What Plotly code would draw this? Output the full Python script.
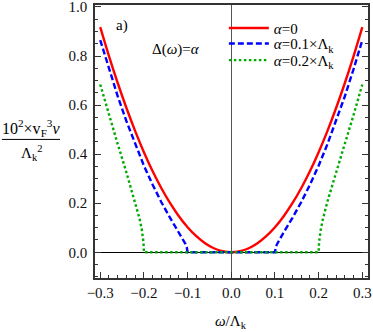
import plotly.graph_objects as go

# omega / Lambda_k
red_x = [-0.30, -0.28, -0.26, -0.24, -0.22, -0.20, -0.18, -0.16, -0.14, -0.12, -0.10, -0.08, -0.06, -0.04, -0.02, 0.0,
         0.02, 0.04, 0.06, 0.08, 0.10, 0.12, 0.14, 0.16, 0.18, 0.20, 0.22, 0.24, 0.26, 0.28, 0.30]
red_y = [0.918, 0.800, 0.690, 0.588, 0.494, 0.408, 0.330, 0.261, 0.200, 0.147, 0.102, 0.0653, 0.0367, 0.0163, 0.0041, 0.0,
         0.0041, 0.0163, 0.0367, 0.0653, 0.102, 0.147, 0.200, 0.261, 0.330, 0.408, 0.494, 0.588, 0.690, 0.800, 0.918]

blue_x = [-0.30, -0.28, -0.26, -0.24, -0.22, -0.20, -0.18, -0.16, -0.14, -0.12, -0.11, -0.105, -0.102, -0.10,
          0.10, 0.102, 0.105, 0.11, 0.12, 0.14, 0.16, 0.18, 0.20, 0.22, 0.24, 0.26, 0.28, 0.30]
blue_y = [0.865, 0.747, 0.636, 0.534, 0.440, 0.353, 0.275, 0.204, 0.140, 0.081, 0.051, 0.034, 0.021, 0.0,
          0.0, 0.021, 0.034, 0.051, 0.081, 0.140, 0.204, 0.275, 0.353, 0.440, 0.534, 0.636, 0.747, 0.865]

green_x = [-0.30, -0.28, -0.26, -0.24, -0.22, -0.21, -0.205, -0.203, -0.201, -0.20,
           0.20, 0.201, 0.203, 0.205, 0.21, 0.22, 0.24, 0.26, 0.28, 0.30]
green_y = [0.684, 0.560, 0.441, 0.325, 0.206, 0.137, 0.094, 0.072, 0.041, 0.0,
           0.0, 0.041, 0.072, 0.094, 0.137, 0.206, 0.325, 0.441, 0.560, 0.684]

names = ["<i>α</i>=0", "<i>α</i>=0.1×Λ<sub>k</sub>", "<i>α</i>=0.2×Λ<sub>k</sub>"]

FONT = "Liberation Serif, Times New Roman, DejaVu Serif, serif"

fig = go.Figure()
fig.add_trace(go.Scatter(x=red_x, y=red_y, name=names[0], mode="lines", line_shape="spline",
                         line=dict(color="#ff0000", width=2.4), legend="legend"))
fig.add_trace(go.Scatter(x=blue_x, y=blue_y, name=names[1], mode="lines",
                         line=dict(color="#0000ff", width=2.4, dash="6px,3px"), legend="legend2"))
fig.add_trace(go.Scatter(x=green_x, y=green_y, name=names[2], mode="lines",
                         line=dict(color="#00aa00", width=2.4, dash="2.5px,2.5px"), legend="legend3"))

fig.update_xaxes(range=[-0.312, 0.313], tickvals=[-0.3, -0.2, -0.1, 0.0, 0.1, 0.2, 0.3], tickformat=".1f",
                 ticks="inside", ticklen=6, tickcolor="#333", showgrid=False, automargin=False,
                 showline=True, linecolor="#333", linewidth=1.5, mirror=True,
                 zeroline=True, zerolinecolor="#555", zerolinewidth=1, ticklabeloverflow="allow",
                 minor=dict(dtick=0.02, ticks="inside", ticklen=3, tickcolor="#333"),
                 tickfont=dict(family=FONT, size=15, color="#111"))
fig.update_yaxes(range=[-0.105, 1.008], tickvals=[0.0, 0.2, 0.4, 0.6, 0.8, 1.0], tickformat=".1f",
                 ticks="inside", ticklen=6, tickcolor="#333", showgrid=False, automargin=False,
                 showline=True, linecolor="#333", linewidth=1.5, mirror="ticks",
                 zeroline=True, zerolinecolor="#000", zerolinewidth=1, ticklabelstandoff=3,
                 ticklabeloverflow="allow",
                 minor=dict(dtick=0.05, ticks="inside", ticklen=3, tickcolor="#333"),
                 tickfont=dict(family=FONT, size=15, color="#111"))

fig.add_annotation(x=-0.251, y=0.925, text="a)", showarrow=False, xref="x", yref="y",
                   font=dict(family=FONT, size=15, color="#000"))
fig.add_annotation(x=-0.126, y=0.827, text="Δ(<i>ω</i>)=<i>α</i>", showarrow=False, xref="x", yref="y",
                   font=dict(family=FONT, size=15, color="#000"))

# y axis label as a fraction
fig.add_annotation(x=-0.234, y=0.505, xref="paper", yref="y", showarrow=False, xanchor="center",
                   text="10<sup>2</sup>×v<sub>F</sub><sup>3</sup><i>ν</i>",
                   font=dict(family=FONT, size=16, color="#000"))
fig.add_shape(type="line", xref="paper", yref="y", x0=-0.341, x1=-0.128, y0=0.46, y1=0.46,
              line=dict(color="#000", width=1))
fig.add_annotation(x=-0.234, y=0.405, xref="paper", yref="y", showarrow=False, xanchor="center",
                   text="Λ<sub>k</sub><sup>2</sup>",
                   font=dict(family=FONT, size=15, color="#000"))

fig.add_annotation(x=0.0, y=-0.2, xref="x", yref="paper", showarrow=False, xanchor="center",
                   text="<i>ω</i>/Λ<sub>k</sub>", font=dict(family=FONT, size=15, color="#000"))

leg = dict(x=0.472, xanchor="left", yanchor="middle", bgcolor="rgba(0,0,0,0)",
           font=dict(family=FONT, size=15, color="#000"), itemwidth=40, borderwidth=0)
fig.update_layout(
    width=373, height=332,
    margin=dict(l=95, r=5, t=5, b=54),
    paper_bgcolor="white", plot_bgcolor="white",
    showlegend=True,
    legend=dict(leg, y=0.915),
    legend2=dict(leg, y=0.858),
    legend3=dict(leg, y=0.797),
)

fig.write_html("out.html", config={"displayModeBar": False},
               post_script="document.body.style.margin='0';")
